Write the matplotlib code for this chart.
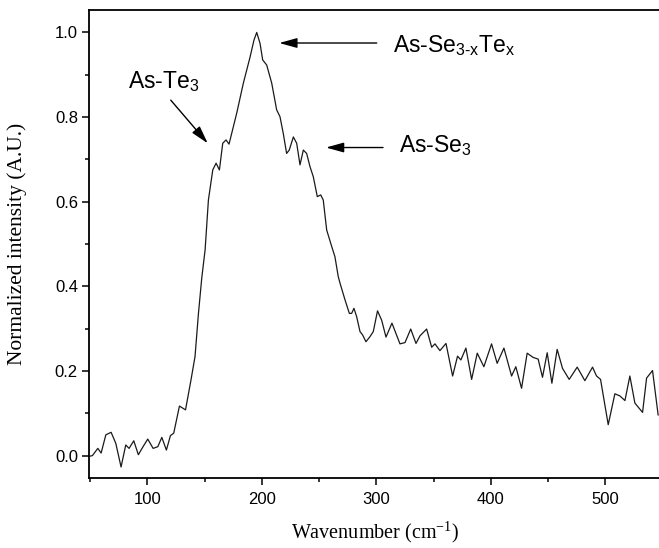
import matplotlib
matplotlib.use("Agg")
from matplotlib import pyplot as plt
from matplotlib.ticker import MultipleLocator, FormatStrFormatter

# spectrum
wavenumber = [
    49, 52, 56.7, 59.6, 63.7, 68.3, 72.4, 77, 81.1, 84, 88.1, 92.1, 96.2, 100.3,
    105, 109.1, 112.6, 116.6, 120.1, 123, 128, 133.3, 138.1, 141.6, 144.6, 147.5,
    150.4, 153.3, 157.1, 160, 162.9, 165.8, 168.7, 171.3, 178, 183.8, 189.7, 193.1,
    195.5, 198.4, 200.7, 204.2, 208.6, 212.9, 215.8, 218.7, 221.6, 223.9, 227.5,
    230.4, 233.3, 236.2, 239.1, 242, 244.9, 248.4, 251.4, 253.6, 256.6, 261, 263.8,
    266.7, 268.3, 272.6, 276.4, 278.4, 280.4, 282.8, 285.7, 288, 290.9, 294.4,
    297.3, 301, 304.6, 308.4, 313.6, 320.6, 325, 330, 334.6, 338.1, 343.9, 348.3,
    351.2, 355.5, 360.8, 366.6, 370.9, 373.8, 378.2, 383.2, 388.1, 393.9, 400.6,
    405.5, 411.4, 418.1, 421.8, 426.8, 431.7, 436.9, 441.3, 445.1, 449.2, 453.3,
    457.9, 462.6, 468.4, 475.4, 482.1, 488.8, 492.3, 495.8, 502.5, 508.3, 512.7,
    517.1, 521.4, 525.8, 532.5, 536, 541.2, 546.1,
]
intensity = [
    -0.002, 0.0, 0.017, 0.006, 0.049, 0.055, 0.029, -0.027, 0.025, 0.017, 0.035,
    0.002, 0.021, 0.039, 0.017, 0.021, 0.043, 0.013, 0.047, 0.053, 0.117, 0.108,
    0.179, 0.234, 0.336, 0.42, 0.486, 0.604, 0.675, 0.691, 0.675, 0.738, 0.746,
    0.736, 0.809, 0.88, 0.942, 0.982, 1.0, 0.974, 0.935, 0.923, 0.88, 0.817,
    0.801, 0.761, 0.714, 0.722, 0.753, 0.738, 0.687, 0.722, 0.714, 0.683, 0.659,
    0.612, 0.616, 0.604, 0.533, 0.494, 0.47, 0.423, 0.407, 0.368, 0.336, 0.336,
    0.348, 0.328, 0.293, 0.285, 0.269, 0.281, 0.293, 0.342, 0.32, 0.28, 0.313,
    0.264, 0.267, 0.299, 0.265, 0.283, 0.299, 0.256, 0.264, 0.248, 0.265, 0.188,
    0.235, 0.226, 0.254, 0.18, 0.242, 0.21, 0.264, 0.218, 0.254, 0.188, 0.21,
    0.159, 0.242, 0.232, 0.228, 0.185, 0.243, 0.171, 0.251, 0.206, 0.18, 0.209,
    0.177, 0.209, 0.188, 0.18, 0.073, 0.146, 0.141, 0.13, 0.188, 0.124, 0.102,
    0.183, 0.201, 0.096,
]

# peak labels: text, text position, arrow tail, arrow tip
peak_labels = [r"As-Te$_3$", r"As-Se$_{3\text{-}x}$Te$_x$", r"As-Se$_3$"]
label_xy = [(83.4, 0.868), (314.8, 0.954), (320.0, 0.718)]
arrow_tail = [(120.4, 0.840), (300.3, 0.975), (305.8, 0.728)]
arrow_tip = [(152.7, 0.738), (215.2, 0.975), (256.0, 0.728)]

plt.rcParams["font.family"] = ["Liberation Sans", "DejaVu Sans"]
plt.rcParams["mathtext.fontset"] = "custom"
plt.rcParams["mathtext.rm"] = "Liberation Sans"
plt.rcParams["mathtext.it"] = "Liberation Sans"

fig = plt.figure(figsize=(6.59, 5.48), dpi=100)
# right spine sits just outside the picture, as in the cropped original
ax = fig.add_axes([89 / 659, 70 / 548, 572 / 659, 468 / 548])

ax.plot(wavenumber, intensity, color="#1a1a1a", lw=0.9)

for text, pos, tail, tip in zip(peak_labels, label_xy, arrow_tail, arrow_tip):
    ax.text(pos[0], pos[1], text, fontsize=16.5, va="baseline", ha="left")
    ax.annotate(
        "", xy=tip, xytext=tail,
        arrowprops=dict(arrowstyle="-|>,head_length=0.9,head_width=0.25",
                        mutation_scale=12, color="black", lw=1,
                        shrinkA=0, shrinkB=0),
    )

ax.set_xlim(49, 548.6)
ax.set_ylim(-0.053, 1.053)
ax.xaxis.set_major_locator(MultipleLocator(100))
ax.xaxis.set_minor_locator(MultipleLocator(50))
ax.yaxis.set_major_locator(MultipleLocator(0.2))
ax.yaxis.set_minor_locator(MultipleLocator(0.1))
ax.yaxis.set_major_formatter(FormatStrFormatter("%.1f"))

ax.tick_params(which="major", direction="out", length=5, width=1.1,
               labelsize=12, pad=5)
ax.tick_params(which="minor", direction="out", length=3, width=1.1)
ax.tick_params(axis="y", pad=3)
for side in ["left", "bottom", "top", "right"]:
    ax.spines[side].set_linewidth(1.3)

ax.set_xlabel(r"Wavenumber (cm$^{\mathregular{-1}}$)", family="Liberation Serif",
              fontsize=14.5)
ax.set_ylabel("Normalized intensity (A.U.)", family="Liberation Serif",
              fontsize=15.5)
ax.xaxis.set_label_coords(0.5, -0.088)
ax.yaxis.set_label_coords(-0.108, 0.5)

plt.savefig("out.png", dpi=100)
plt.close(fig)
